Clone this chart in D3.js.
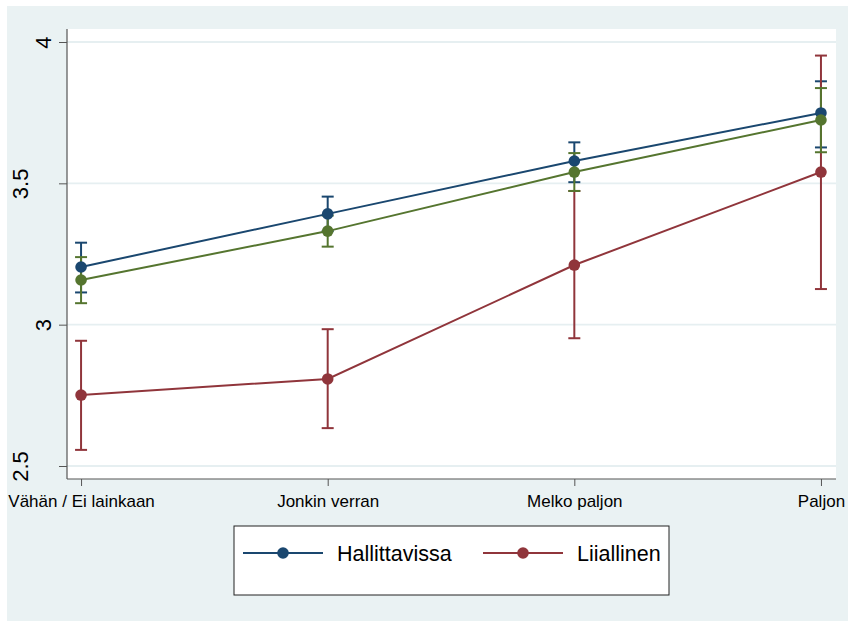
<!DOCTYPE html>
<html>
<head>
<meta charset="utf-8">
<script src="https://cdn.jsdelivr.net/npm/d3@7"></script>
<style>
  html, body { margin: 0; padding: 0; background: #ffffff; }
  svg { display: block; font-family: "Liberation Sans", Arial, sans-serif; }
</style>
</head>
<body>
<svg id="chart" width="848" height="621"></svg>
<script>
// Categories on the x axis
const categories = ["Vähän / Ei lainkaan", "Jonkin verran", "Melko paljon", "Paljon"];

// Y axis ticks
const yTicks = [2.5, 3, 3.5, 4];

// Hallittavissa: means and 95% CI
const hallittavissaMean = [3.204, 3.392, 3.579, 3.749];
const hallittavissaLow  = [3.114, 3.331, 3.504, 3.627];
const hallittavissaHigh = [3.290, 3.453, 3.645, 3.861];

// Liiallinen: means and 95% CI
const liiallinenMean = [2.751, 2.808, 3.211, 3.540];
const liiallinenLow  = [2.557, 2.634, 2.952, 3.126];
const liiallinenHigh = [2.943, 2.984, 3.473, 3.952];

// Third group (not listed in the legend): means and 95% CI
const thirdMean = [3.158, 3.331, 3.540, 3.724];
const thirdLow  = [3.076, 3.276, 3.473, 3.610];
const thirdHigh = [3.239, 3.386, 3.607, 3.837];

const series = [
  { name: "Hallittavissa", color: "#1a476f", mean: hallittavissaMean, low: hallittavissaLow, high: hallittavissaHigh, legend: true },
  { name: "Liiallinen",    color: "#90353b", mean: liiallinenMean,    low: liiallinenLow,    high: liiallinenHigh,    legend: true },
  { name: "",              color: "#55752f", mean: thirdMean,         low: thirdLow,         high: thirdHigh,         legend: false }
];

const svg = d3.select("#chart");

// Graph region background
svg.append("rect")
  .attr("x", 7).attr("y", 6).attr("width", 841).attr("height", 615)
  .attr("fill", "#eaf2f3");

// Plot region
const plot = { left: 67, right: 836, top: 29, bottom: 479 };
svg.append("rect")
  .attr("x", plot.left).attr("y", plot.top)
  .attr("width", plot.right - plot.left).attr("height", plot.bottom - plot.top)
  .attr("fill", "#ffffff");

const x = d3.scaleLinear().domain([0.943, 4.061]).range([plot.left, plot.right]);
const y = d3.scaleLinear().domain([2.5, 4]).range([466, 42]);

// Horizontal grid lines
svg.append("g").selectAll("line").data(yTicks).join("line")
  .attr("x1", plot.left).attr("x2", plot.right)
  .attr("y1", d => y(d)).attr("y2", d => y(d))
  .attr("stroke", "#e6eff1").attr("stroke-width", 1.8);

// Y axis
const yAxis = svg.append("g")
  .attr("transform", `translate(${plot.left},0)`)
  .call(d3.axisLeft(y).tickValues(yTicks).tickSize(8).tickFormat(d3.format("")));
yAxis.select(".domain").remove();
yAxis.selectAll(".tick line").attr("stroke", "#555").attr("stroke-width", 1);
yAxis.selectAll(".tick text").remove();
yAxis.selectAll(".tick").each(function(d) {
  const label = String(d);
  const bx = 51 - (label.length - 1) * 11.5 - plot.left;
  d3.select(this).append("text")
    .attr("transform", `translate(${bx},0) rotate(-90)`)
    .attr("text-anchor", "middle")
    .attr("fill", "#000")
    .attr("font-size", 22)
    .text(label);
});
svg.append("line")
  .attr("x1", plot.left).attr("x2", plot.left)
  .attr("y1", plot.top).attr("y2", plot.bottom)
  .attr("stroke", "#555").attr("stroke-width", 1.2);

// X axis
const xAxis = svg.append("g")
  .attr("transform", `translate(0,${plot.bottom})`)
  .call(d3.axisBottom(x).tickValues([1, 2, 3, 4]).tickSize(7).tickFormat(d => categories[d - 1]));
xAxis.select(".domain").remove();
xAxis.selectAll(".tick line").attr("stroke", "#555").attr("stroke-width", 1);
xAxis.selectAll(".tick text")
  .attr("y", 28).attr("dy", 0)
  .attr("fill", "#000")
  .attr("font-size", 17)
  .attr("font-family", "'Liberation Sans', Arial, sans-serif");
svg.append("line")
  .attr("x1", plot.left).attr("x2", plot.right)
  .attr("y1", plot.bottom).attr("y2", plot.bottom)
  .attr("stroke", "#555").attr("stroke-width", 1.2);

// Confidence interval caps
const capHalf = 6;
series.forEach(s => {
  const g = svg.append("g").attr("stroke", s.color).attr("stroke-width", 2).attr("fill", "none");
  s.mean.forEach((m, i) => {
    const cx = x(i + 1);
    g.append("line").attr("x1", cx).attr("x2", cx).attr("y1", y(s.low[i])).attr("y2", y(s.high[i]));
    g.append("line").attr("x1", cx - capHalf).attr("x2", cx + capHalf).attr("y1", y(s.low[i])).attr("y2", y(s.low[i]));
    g.append("line").attr("x1", cx - capHalf).attr("x2", cx + capHalf).attr("y1", y(s.high[i])).attr("y2", y(s.high[i]));
  });
});

// Connected lines with markers
const line = d3.line().x((d, i) => x(i + 1)).y(d => y(d));
series.forEach(s => {
  svg.append("path").datum(s.mean)
    .attr("d", line)
    .attr("fill", "none").attr("stroke", s.color).attr("stroke-width", 2);
  svg.append("g").selectAll("circle").data(s.mean).join("circle")
    .attr("cx", (d, i) => x(i + 1)).attr("cy", d => y(d))
    .attr("r", 5.8).attr("fill", s.color);
});

// Legend
const legend = svg.append("g");
legend.append("rect")
  .attr("x", 234).attr("y", 526).attr("width", 435).attr("height", 69)
  .attr("fill", "#ffffff").attr("stroke", "#222").attr("stroke-width", 1);
const legendItems = series.filter(s => s.legend);
const legendX = [243, 483];
legendItems.forEach((s, i) => {
  const lx = legendX[i];
  legend.append("line")
    .attr("x1", lx).attr("x2", lx + 80).attr("y1", 553).attr("y2", 553)
    .attr("stroke", s.color).attr("stroke-width", 2);
  legend.append("circle")
    .attr("cx", lx + 40).attr("cy", 553).attr("r", 5.8).attr("fill", s.color);
  legend.append("text")
    .attr("x", lx + 94).attr("y", 561)
    .attr("font-size", 21.5).attr("fill", "#000")
    .text(s.name);
});
</script>
</body>
</html>
